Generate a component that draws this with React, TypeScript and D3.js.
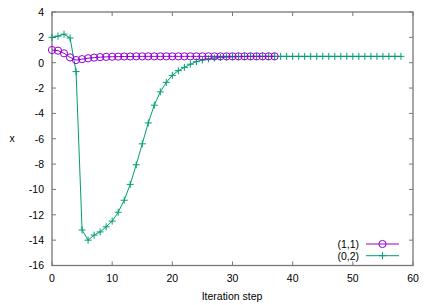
import { useEffect, useRef } from 'react';
import * as d3 from 'd3';

// (1,1) series, one value per iteration step starting at 0
const seriesA: number[] = [
  1.0, 0.95, 0.74, 0.42, 0.21, 0.28, 0.35, 0.4, 0.44, 0.46,
  0.47, 0.48, 0.49, 0.49, 0.5, 0.5, 0.5, 0.5, 0.5, 0.5,
  0.5, 0.5, 0.5, 0.5, 0.5, 0.5, 0.5, 0.5, 0.5, 0.5,
  0.5, 0.5, 0.5, 0.5, 0.5, 0.5, 0.5, 0.5,
];

// (0,2) series
const seriesB: number[] = [
  2.0, 2.1, 2.25, 1.95, -0.7, -13.2, -14.0, -13.6, -13.35, -12.95,
  -12.5, -11.8, -10.85, -9.6, -8.05, -6.4, -4.75, -3.35, -2.3, -1.55,
  -1.0, -0.63, -0.37, -0.12, 0.08, 0.21, 0.3, 0.37, 0.42, 0.45,
  0.47, 0.48, 0.49, 0.5, 0.5, 0.5, 0.5, 0.5, 0.5, 0.5,
  0.5, 0.5, 0.5, 0.5, 0.5, 0.5, 0.5, 0.5, 0.5, 0.5,
  0.5, 0.5, 0.5, 0.5, 0.5, 0.5, 0.5, 0.5, 0.5,
];

const xTicks = [0, 10, 20, 30, 40, 50, 60];
const yTicks = [4, 2, 0, -2, -4, -6, -8, -10, -12, -14, -16];
const seriesNames = ['(1,1)', '(0,2)'];
const seriesColors = ['#9400d3', '#009e73'];

export default function App() {
  const svgRef = useRef<SVGSVGElement>(null);
  const width = 436;
  const height = 305;

  useEffect(() => {
    const svg = d3.select(svgRef.current);
    svg.selectAll('*').remove();

    const left = 52, right = 413, top = 12, bottom = 265.5;
    const x = d3.scaleLinear().domain([0, 60]).range([left, right]);
    const y = d3.scaleLinear().domain([-16, 4]).range([bottom, top]);
    const font = 'Liberation Sans, Arial, sans-serif';
    const tickLen = 4;
    const axisColor = '#777';

    const g = svg.append('g');

    // border
    g.append('rect')
      .attr('x', left).attr('y', top)
      .attr('width', right - left).attr('height', bottom - top)
      .attr('fill', 'none').attr('stroke', axisColor).attr('stroke-width', 1.3);

    // x ticks (mirrored)
    xTicks.forEach(t => {
      const px = x(t);
      g.append('line').attr('x1', px).attr('x2', px).attr('y1', bottom).attr('y2', bottom - tickLen)
        .attr('stroke', axisColor).attr('stroke-width', 1);
      g.append('line').attr('x1', px).attr('x2', px).attr('y1', top).attr('y2', top + tickLen)
        .attr('stroke', axisColor).attr('stroke-width', 1);
      g.append('text')
        .attr('x', px).attr('y', bottom + 16)
        .attr('text-anchor', 'middle')
        .style('font-family', font).style('font-size', '10.5px').attr('fill', '#000')
        .text(t);
    });

    // y ticks (mirrored)
    yTicks.forEach(t => {
      const py = y(t);
      g.append('line').attr('x1', left).attr('x2', left + tickLen).attr('y1', py).attr('y2', py)
        .attr('stroke', axisColor).attr('stroke-width', 1);
      g.append('line').attr('x1', right).attr('x2', right - tickLen).attr('y1', py).attr('y2', py)
        .attr('stroke', axisColor).attr('stroke-width', 1);
      g.append('text')
        .attr('x', left - 8).attr('y', py + 3.8)
        .attr('text-anchor', 'end')
        .style('font-family', font).style('font-size', '10.5px').attr('fill', '#000')
        .text(t);
    });

    // axis labels
    g.append('text')
      .attr('x', 12).attr('y', 142)
      .attr('text-anchor', 'middle')
      .style('font-family', font).style('font-size', '10.5px')
      .text('x');
    g.append('text')
      .attr('x', 232).attr('y', 300)
      .attr('text-anchor', 'middle')
      .style('font-family', font).style('font-size', '10.5px')
      .text('Iteration step');

    const line = d3.line<number>()
      .x((d, i) => x(i))
      .y(d => y(d));

    const drawPlus = (sel: d3.Selection<SVGGElement, unknown, null, undefined>, cx: number, cy: number, color: string) => {
      const s = 3.5;
      sel.append('path')
        .attr('d', `M${cx - s},${cy}H${cx + s}M${cx},${cy - s}V${cy + s}`)
        .attr('stroke', color).attr('stroke-width', 1).attr('fill', 'none');
    };

    const drawCircle = (sel: d3.Selection<SVGGElement, unknown, null, undefined>, cx: number, cy: number, color: string) => {
      sel.append('circle')
        .attr('cx', cx).attr('cy', cy).attr('r', 3.6)
        .attr('fill', 'none').attr('stroke', color).attr('stroke-width', 1);
    };

    // series (0,2)
    const gB = g.append('g');
    gB.append('path').datum(seriesB).attr('d', line)
      .attr('fill', 'none').attr('stroke', seriesColors[1]).attr('stroke-width', 1);
    seriesB.forEach((d, i) => drawPlus(gB, x(i), y(d), seriesColors[1]));

    // series (1,1)
    const gA = g.append('g');
    gA.append('path').datum(seriesA).attr('d', line)
      .attr('fill', 'none').attr('stroke', seriesColors[0]).attr('stroke-width', 1);
    seriesA.forEach((d, i) => drawCircle(gA, x(i), y(d), seriesColors[0]));

    // legend
    const legend = g.append('g');
    seriesNames.forEach((name, i) => {
      const ly = 244 + i * 11.7;
      legend.append('text')
        .attr('x', 359).attr('y', ly + 3.8)
        .attr('text-anchor', 'end')
        .style('font-family', font).style('font-size', '10.5px')
        .text(name);
      legend.append('line')
        .attr('x1', 366).attr('x2', 399).attr('y1', ly).attr('y2', ly)
        .attr('stroke', seriesColors[i]).attr('stroke-width', 1);
      if (i === 0) drawCircle(legend, 382.5, ly, seriesColors[i]);
      else drawPlus(legend, 382.5, ly, seriesColors[i]);
    });
  }, []);

  return (
    <svg
      ref={svgRef}
      width={width}
      height={height}
      style={{ position: 'absolute', left: 0, top: 0, background: '#fff' }}
    />
  );
}
